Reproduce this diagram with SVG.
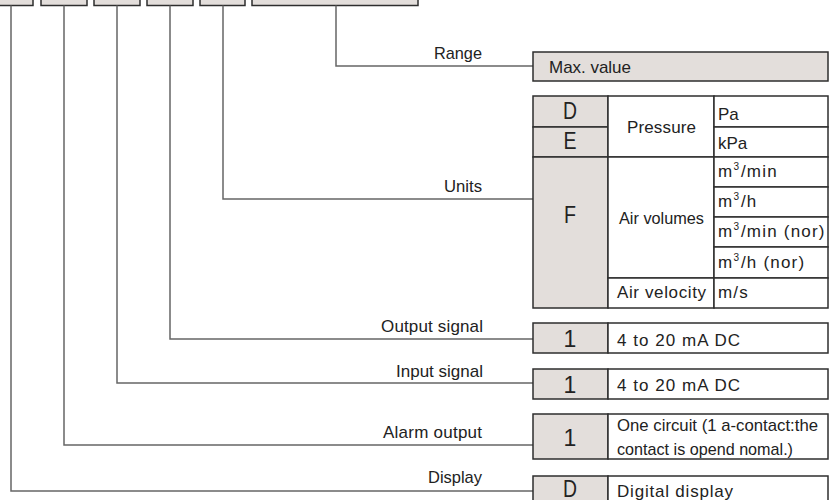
<svg xmlns="http://www.w3.org/2000/svg" width="833" height="500" viewBox="0 0 833 500">
<style>
.box{fill:#e3dedb;stroke:#2e2e2e;stroke-width:1.5}
.cell{fill:#ffffff;stroke:#2e2e2e;stroke-width:1.5}
.key{fill:#e3dedb;stroke:#2e2e2e;stroke-width:1.5}
.con{fill:none;stroke:#666666;stroke-width:1.5}
text{font-family:"Liberation Sans",Arial,sans-serif;fill:#222222}
.lbl{font-size:17px;text-anchor:end}
.t{font-size:17px}
.u{font-size:17px;letter-spacing:1.2px}
.c{font-size:17px;text-anchor:middle}
.k{font-size:23px;text-anchor:middle}
.sup{font-size:10px;letter-spacing:2px}
</style>
<rect width="833" height="500" fill="#ffffff"/>
<g id="code">
<rect class="box" x="-13" y="-25" width="46" height="30.5"/>
<rect class="box" x="41" y="-25" width="46" height="30.5"/>
<rect class="box" x="94" y="-25" width="46" height="30.5"/>
<rect class="box" x="147" y="-25" width="46" height="30.5"/>
<rect class="box" x="200" y="-25" width="45" height="30.5"/>
<rect class="box" x="252" y="-25" width="166" height="30.5"/>
</g>
<g id="connectors">
<polyline class="con" points="11,5.5 11,491 533,491"/>
<polyline class="con" points="64,5.5 64,445 533,445"/>
<polyline class="con" points="117,5.5 117,383 533,383"/>
<polyline class="con" points="170,5.5 170,339 533,339"/>
<polyline class="con" points="223,5.5 223,199 533,199"/>
<polyline class="con" points="336,5.5 336,66 533,66"/>
</g>
<g id="labels">
<text class="lbl" x="482" y="59" textLength="48" lengthAdjust="spacingAndGlyphs">Range</text>
<text class="lbl" x="482" y="192" textLength="38" lengthAdjust="spacingAndGlyphs">Units</text>
<text class="lbl" x="483" y="332" textLength="102">Output signal</text>
<text class="lbl" x="483" y="377" textLength="87">Input signal</text>
<text class="lbl" x="482" y="438" textLength="99">Alarm output</text>
<text class="lbl" x="482" y="483" textLength="54" lengthAdjust="spacingAndGlyphs">Display</text>
</g>
<g id="range">
<rect class="box" x="533" y="52" width="295" height="29"/>
<text class="t" x="549" y="73" textLength="82">Max. value</text>
</g>
<g id="units">
<rect class="key" x="533" y="96" width="75" height="31"/>
<rect class="key" x="533" y="127" width="75" height="30"/>
<rect class="key" x="533" y="157" width="75" height="151"/>
<rect class="cell" x="608" y="96" width="106" height="61"/>
<rect class="cell" x="608" y="157" width="106" height="121"/>
<rect class="cell" x="608" y="278" width="106" height="30"/>
<rect class="cell" x="714" y="96" width="114" height="31"/>
<rect class="cell" x="714" y="127" width="114" height="30"/>
<rect class="cell" x="714" y="157" width="114" height="30"/>
<rect class="cell" x="714" y="187" width="114" height="30"/>
<rect class="cell" x="714" y="217" width="114" height="30"/>
<rect class="cell" x="714" y="247" width="114" height="31"/>
<rect class="cell" x="714" y="278" width="114" height="30"/>
<text class="k" x="570" y="119" textLength="14" lengthAdjust="spacingAndGlyphs">D</text>
<text class="k" x="570" y="149" textLength="13" lengthAdjust="spacingAndGlyphs">E</text>
<text class="k" x="570" y="223" textLength="12" lengthAdjust="spacingAndGlyphs">F</text>
<text class="c" x="661.5" y="133" textLength="69">Pressure</text>
<text class="c" x="661.5" y="224" textLength="85" lengthAdjust="spacingAndGlyphs">Air volumes</text>
<text class="c" x="661.5" y="298" textLength="89">Air velocity</text>
<text class="t" x="718" y="120">Pa</text>
<text class="t" x="718" y="149">kPa</text>
<text class="u" x="718" y="177">m<tspan class="sup" dy="-7">3</tspan><tspan dy="7">/min</tspan></text>
<text class="u" x="718" y="207">m<tspan class="sup" dy="-7">3</tspan><tspan dy="7">/h</tspan></text>
<text class="u" x="718" y="237">m<tspan class="sup" dy="-7">3</tspan><tspan dy="7">/min (nor)</tspan></text>
<text class="u" x="718" y="268">m<tspan class="sup" dy="-7">3</tspan><tspan dy="7">/h (nor)</tspan></text>
<text class="u" x="718" y="298">m/s</text>
</g>
<g id="output">
<rect class="key" x="533" y="323" width="75" height="30"/>
<rect class="cell" x="608" y="323" width="220" height="30"/>
<text class="k" x="570" y="347">1</text>
<text class="t" x="617" y="346" textLength="123">4 to 20 mA DC</text>
</g>
<g id="input">
<rect class="key" x="533" y="369" width="75" height="30"/>
<rect class="cell" x="608" y="369" width="220" height="30"/>
<text class="k" x="570" y="393">1</text>
<text class="t" x="617" y="391" textLength="123">4 to 20 mA DC</text>
</g>
<g id="alarm">
<rect class="key" x="533" y="414" width="75" height="45"/>
<rect class="cell" x="608" y="414" width="220" height="45"/>
<text class="k" x="570" y="446">1</text>
<text class="t" x="617" y="431" textLength="201" lengthAdjust="spacingAndGlyphs">One circuit (1 a-contact:the</text>
<text class="t" x="617" y="455" textLength="176" lengthAdjust="spacingAndGlyphs">contact is opend nomal.)</text>
</g>
<g id="display">
<rect class="key" x="533" y="476" width="75" height="30"/>
<rect class="cell" x="608" y="476" width="220" height="30"/>
<text class="k" x="570" y="497" textLength="14" lengthAdjust="spacingAndGlyphs">D</text>
<text class="t" x="617" y="497" textLength="116">Digital display</text>
</g>
</svg>
